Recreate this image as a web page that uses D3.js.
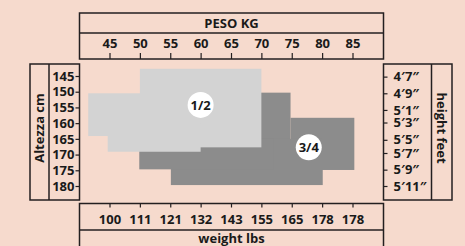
<!DOCTYPE html>
<html>
<head>
<meta charset="utf-8">
<script src="https://cdn.jsdelivr.net/npm/d3@7"></script>
<style>
  html, body { margin: 0; padding: 0; background: #f6dacd; }
  svg { display: block; }
  text { font-family: "Open Sans", sans-serif; font-weight: 700; fill: #1a1a1a; }
  .box { fill: none; stroke: #231f20; stroke-width: 1.5; }
  .tick line { stroke: #231f20; stroke-width: 1.2; }
  .tick text { font-size: 13px; }
</style>
</head>
<body>
<svg id="chart" width="465" height="246"></svg>
<script>
// tick values and labels
const kgTicks = [45, 50, 55, 60, 65, 70, 75, 80, 85];
const lbsLabels = ["100", "111", "121", "132", "143", "155", "165", "178", "178"];
const cmTicks = [145, 150, 155, 160, 165, 170, 175, 180];
const feetLabels = ["4\u20327\u2033", "4\u20329\u2033", "5\u20321\u2033", "5\u20323\u2033", "5\u20325\u2033", "5\u20327\u2033", "5\u20329\u2033", "5\u203211\u2033"];
const feetAtCm = [145.2, 150.5, 155.8, 159.8, 165.3, 169.5, 174.8, 180];

// size zones: [kg from, kg to, cm from, cm to]
const sizeHalf = [[50, 70, 142.7, 167.7], [41.5, 52, 150.5, 164.1], [44.7, 60, 160, 169.1]];
const sizeThreeQuarter = [[65, 74.8, 150.3, 175], [74.8, 85.3, 158.3, 174.9], [55.1, 80.1, 165, 179.7], [49.9, 72, 165, 174.7]];
const sizeNames = ["1/2", "3/4"];
const sizeNameKg = [60, 77.8];
const sizeNameCm = [154.2, 167.7];

let svg = d3.select("#chart");

let xScale = d3.scaleLinear().domain([45, 85]).range([109.5, 352.5]);
let yScale = d3.scaleLinear().domain([145, 180]).range([76, 186]);

// Zonen
function drawZone(rects, color) {
    svg.append("g")
        .selectAll("rect")
        .data(rects)
        .enter()
        .append("rect")
        .attr("x", d => xScale(d[0]))
        .attr("y", d => yScale(d[2]))
        .attr("width", d => xScale(d[1]) - xScale(d[0]))
        .attr("height", d => yScale(d[3]) - yScale(d[2]))
        .attr("fill", color);
}
drawZone(sizeThreeQuarter, "#8c8c8c");
drawZone(sizeHalf, "#d3d3d3");

let labels = svg.append("g")
    .selectAll("g")
    .data(sizeNames)
    .enter()
    .append("g")
    .attr("transform", (d, i) => `translate(${xScale(sizeNameKg[i])},${yScale(sizeNameCm[i])})`);
labels.append("circle").attr("r", 13).attr("fill", "#fff");
labels.append("text")
    .attr("text-anchor", "middle")
    .attr("dy", "0.36em")
    .style("font-size", "13px")
    .text(d => d);

// Boxen
svg.append("rect").attr("class", "box").attr("x", 79.5).attr("y", 13).attr("width", 304).attr("height", 46);
svg.append("line").attr("class", "box").attr("x1", 79.5).attr("x2", 383.5).attr("y1", 33).attr("y2", 33);
svg.append("rect").attr("class", "box").attr("x", 30).attr("y", 64).attr("width", 49.5).attr("height", 136);
svg.append("line").attr("class", "box").attr("x1", 49).attr("x2", 49).attr("y1", 64).attr("y2", 200);
svg.append("rect").attr("class", "box").attr("x", 383.5).attr("y", 64).attr("width", 68.5).attr("height", 136);
svg.append("line").attr("class", "box").attr("x1", 431.5).attr("x2", 431.5).attr("y1", 64).attr("y2", 200);
svg.append("rect").attr("class", "box").attr("x", 79.5).attr("y", 203.5).attr("width", 304).attr("height", 60);
svg.append("line").attr("class", "box").attr("x1", 79.5).attr("x2", 383.5).attr("y1", 230).attr("y2", 230);

// Achsen
svg.append("g")
    .attr("transform", "translate(0,59)")
    .call(d3.axisTop(xScale).tickValues(kgTicks).tickSize(6).tickPadding(5))
    .call(g => g.select(".domain").remove());

svg.append("g")
    .attr("transform", "translate(0,203.5)")
    .call(d3.axisBottom(xScale).tickValues(kgTicks).tickSize(4).tickPadding(7)
        .tickFormat((d, i) => lbsLabels[i]))
    .call(g => g.select(".domain").remove());

svg.append("g")
    .attr("transform", "translate(79.5,0)")
    .call(d3.axisLeft(yScale).tickValues(cmTicks).tickSize(4).tickPadding(1))
    .call(g => g.select(".domain").remove());

svg.append("g")
    .attr("transform", "translate(383.5,0)")
    .call(d3.axisRight(yScale).tickValues(feetAtCm).tickSize(4).tickPadding(6)
        .tickFormat((d, i) => feetLabels[i]))
    .call(g => g.select(".domain").remove());

svg.selectAll(".tick text").attr("fill", "#1a1a1a");
svg.selectAll(".tick line").attr("stroke", "#231f20");

// Titel
svg.append("text").attr("x", 231.5).attr("y", 27.5).attr("text-anchor", "middle")
    .style("font-size", "13px").text("PESO KG");
svg.append("text").attr("x", 231.5).attr("y", 242.5).attr("text-anchor", "middle")
    .style("font-size", "13px").text("weight lbs");
svg.append("text").attr("transform", "translate(39.5,128) rotate(-90)")
    .attr("text-anchor", "middle").attr("dy", "0.36em")
    .style("font-size", "13px").text("Altezza cm");
svg.append("text").attr("transform", "translate(441.5,128) rotate(90)")
    .attr("text-anchor", "middle").attr("dy", "0.36em")
    .style("font-size", "13px").text("height feet");
</script>
</body>
</html>
